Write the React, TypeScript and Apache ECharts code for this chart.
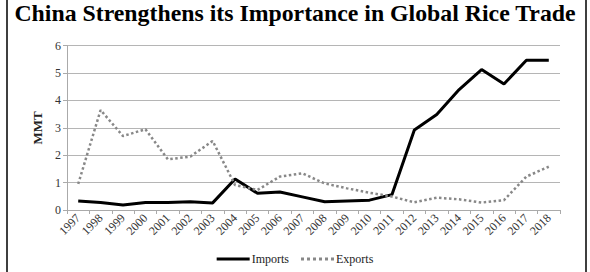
import React, { useEffect, useRef } from "react";
import * as echarts from "echarts";

const years = ["1997","1998","1999","2000","2001","2002","2003","2004","2005","2006","2007","2008","2009","2010","2011","2012","2013","2014","2015","2016","2017","2018"];
const imports = [0.33,0.27,0.18,0.27,0.27,0.30,0.26,1.13,0.61,0.66,0.48,0.30,0.33,0.36,0.56,2.92,3.49,4.40,5.13,4.60,5.47,5.47];
const exportsData = [0.95,3.65,2.70,2.95,1.85,1.95,2.52,0.91,0.73,1.22,1.34,0.97,0.79,0.63,0.49,0.28,0.45,0.39,0.27,0.36,1.22,1.58];
const titleText = "China Strengthens its Importance in Global Rice Trade";

export default function App() {
  const ref = useRef<HTMLDivElement>(null);
  useEffect(() => {
    const chart = echarts.init(ref.current!, null, { renderer: "svg" });
    const serif = "Liberation Serif";
    const dots = "path://M0 0h3v3H0zM6 0h3v3H6zM12 0h3v3h-3zM18 0h3v3h-3zM24 0h3v3h-3zM30 0h3v3h-3z";
    chart.setOption({
      animation: false,
      backgroundColor: "#fff",
      title: {
        text: titleText,
        left: "center",
        top: 2,
        padding: 0,
        textStyle: { fontSize: 23.8, lineHeight: 22, fontWeight: "bold", fontFamily: serif, color: "#000" },
      },
      graphic: [
        {
          type: "rect",
          shape: { x: 7, y: -5, width: 579, height: 290 },
          style: { fill: "none", stroke: "#000", lineWidth: 1.5 },
          silent: true,
          z: 100,
        },
      ],
      grid: { left: 67, right: 30, top: 45.7, bottom: 62 },
      legend: {
        top: 248,
        left: "center",
        itemWidth: 33,
        itemHeight: 3,
        itemGap: 12,
        textStyle: { fontFamily: serif, fontSize: 12, color: "#222", padding: [0, 0, 0, -3] },
        data: [
          { name: "Imports", icon: "path://M0 0h33v3H0z", itemStyle: { color: "#000" } },
          { name: "Exports", icon: dots, itemStyle: { color: "#888" } },
        ],
      },
      xAxis: {
        type: "category",
        data: years,
        boundaryGap: true,
        axisLine: { lineStyle: { color: "#aaa", width: 1 } },
        axisTick: { show: true, length: 4, lineStyle: { color: "#aaa" } },
        axisLabel: { rotate: 45, fontFamily: serif, fontSize: 12, color: "#333", margin: 6, interval: 0 },
      },
      yAxis: {
        type: "value",
        min: 0,
        max: 6,
        interval: 1,
        name: "MMT",
        nameLocation: "middle",
        nameGap: 21,
        nameTextStyle: { fontFamily: serif, fontSize: 13, fontWeight: "bold", color: "#222" },
        axisLine: { show: true, lineStyle: { color: "#aaa", width: 1 } },
        axisTick: { show: true, length: 4, lineStyle: { color: "#aaa" } },
        axisLabel: { fontFamily: serif, fontSize: 12, color: "#333", margin: 6 },
        splitLine: { lineStyle: { color: "#b5b5b5", width: 1 } },
      },
      series: [
        {
          name: "Imports",
          type: "line",
          data: imports,
          symbol: "none",
          lineStyle: { color: "#000", width: 3 },
          itemStyle: { color: "#000" },
        },
        {
          name: "Exports",
          type: "line",
          data: exportsData,
          symbol: "none",
          lineStyle: { color: "#888", width: 2.5, type: "dotted" },
          itemStyle: { color: "#888" },
        },
      ],
    });
    return () => chart.dispose();
  }, []);
  return <div ref={ref} style={{ position: "absolute", left: 0, top: 0, width: 590, height: 272 }} />;
}
